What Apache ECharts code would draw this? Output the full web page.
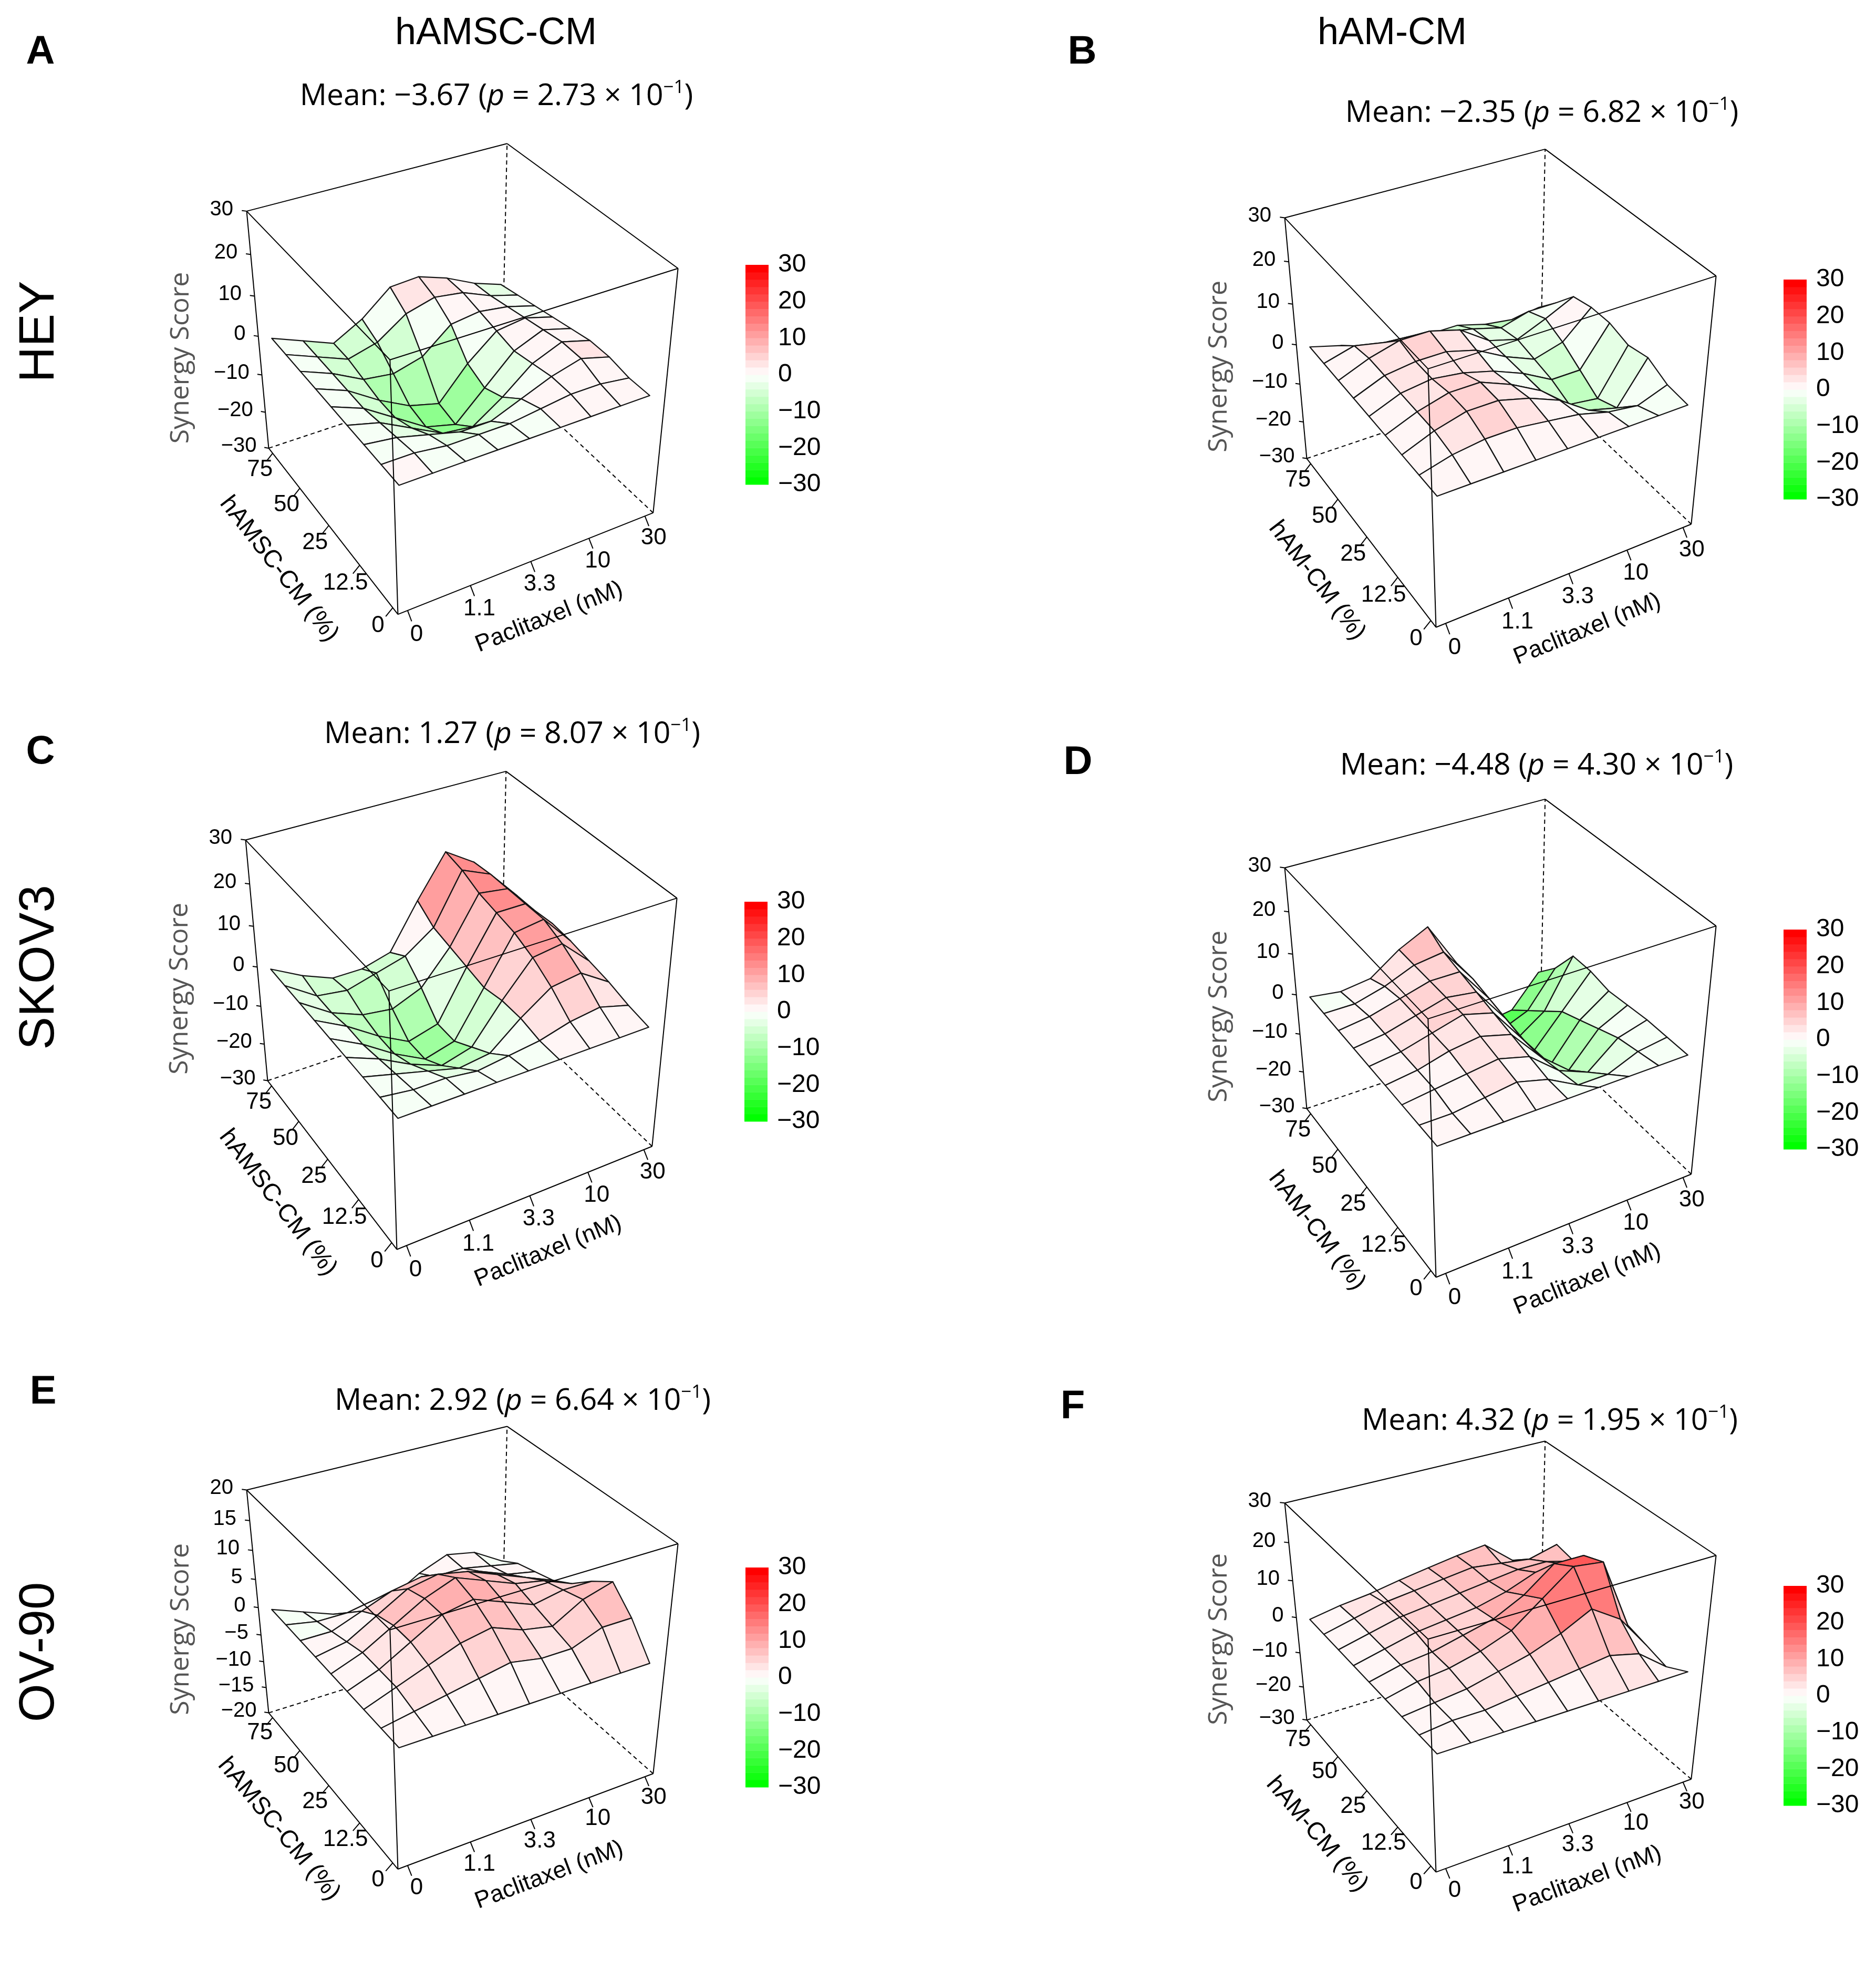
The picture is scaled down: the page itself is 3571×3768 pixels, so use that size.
<!DOCTYPE html>
<html>
<head>
<meta charset="utf-8">
<script src="https://cdn.jsdelivr.net/npm/echarts@6/dist/echarts.min.js"></script>
<style>
  html, body { margin: 0; padding: 0; background: #fff; }
  #chart { width: 3571px; height: 3768px; }
</style>
</head>
<body>
<div id="chart"></div>
<script>
// ---- data -------------------------------------------------------------
const pacLabels = ['0', '1.1', '3.3', '10', '30'];          // paclitaxel (nM)
const cmLabels = ['0', '12.5', '25', '50', '75'];          // conditioned medium (%)
const zTicks30 = [-30, -20, -10, 0, 10, 20, 30];
const zTicks20 = [-20, -15, -10, -5, 0, 5, 10, 15, 20];

// synergy score on the drawn mesh: rows = CM 0 -> 75 %, cols = paclitaxel 0 -> 30 nM
const heyAmsc = [
  [0, 0, 0, 0, 0, 0, 0, 0, 0],
  [0, 0, -1, -1, -1, 0, 1, 1, 0],
  [0, -1, -3, -5, -5, -2, 1, 3, 1],
  [0, -2, -6, -10, -11, -6, 0, 3, 1],
  [0, -3, -8, -13, -15, -8, -1, 2, 0],
  [0, -3, -8, -12, -14, -6, 0, 1, -1],
  [0, -3, -7, -8, -6, 0, 1, 0, -2],
  [0, -3, -6, -4, 1, 3, 2, -1, -3],
  [0, -3, -6, -2, 4, 4.5, 2, -1.5, -4]
];
const heyAm = [
  [0, 0, 0, 0, 0, 0, 0, 0, 0],
  [0, 2, 3, 3, 2, 1, -1, -2, 0.6],
  [0, 3, 5, 5, 3, 0, -5, -7, 3],
  [0, 3, 5, 5, 2, -2, -8, -9, 2],
  [0, 3, 4, 3, 1, -2, -6, -6, 3.5],
  [0, 3, 4, 4, 2, -2, -5, -3, 3.5],
  [0, 3, 5, 5, 3, -2, -4, -1, 2.4],
  [0, 2, 0.5, 0, -1.5, -3, -5, -3, -3],
  [0, -2, -4.5, -5.5, -6, -6, -8, -9, -8]
];
const skovAmsc = [
  [0, 0, 0, 0, 0, 0, 0, 0, 0],
  [0, -1, -1, -2, -1, 0, 2, 3, 1],
  [0, -2, -4, -6, -5, 1, 6, 7, 2.5],
  [0, -3, -7, -10, -8, 1, 9, 10, 3.5],
  [0, -4, -9, -13, -11, 0, 11, 12, 4.5],
  [0, -4, -9, -13, -11, 1, 12, 12, 5],
  [0, -5, -8, -9, -6, 2, 13, 12, 4.5],
  [0, -5, -6, -4, -2, 3, 15, 12, 4.5],
  [0, -4, -7, -7, -5, 6, 16, 11.5, 4]
];
const skovAm = [
  [0, 0, 0, 0, 0, 0, 0, 0, 0],
  [0, 0, 1, 2, 0, -4, -4, -1, 0],
  [0, 1, 2, 3, 1, -5, -8, -2, 0],
  [0, 1, 3, 4, 2, -6, -12, -4, -0.5],
  [0, 1, 3, 5, 3, -6, -15, -6, -1],
  [0, 1, 3, 5, 4, -5, -16, -8, 0],
  [0, 1, 3, 5, 5, -4, -17, -12, 0],
  [0, 0, 2, 5, 6, -3, -19, -16, -7],
  [0, -1, 0, 5, 8.5, -3, -21, -20, -12]
];
const ovAmsc = [
  [0, 0, 0, 0, 0, 0, 0, 0, 0],
  [0, 1, 2, 3, 4, 3, 3, 5, 5],
  [0, 2, 4, 6, 7, 5, 4, 7, 8.5],
  [0, 2, 5, 8, 9, 7, 5, 6, 6],
  [0, 2, 5, 8, 10, 8, 6, 5, 3],
  [0, 1, 4, 7, 8, 7, 5, 3, 1],
  [0, 0, 2, 4, 5, 4, 3, 1, 0],
  [0, -1, -1, 0, 1, 1, 1, 0, -1],
  [0, -2, -4, -5, -4, -1, 1, 0, -3]
];
const ovAm = [
  [0, 0, 0, 0, 0, 0, 0, 0, 0],
  [0, 1, 1, 2, 3, 4, 5, 3, -3],
  [0, 1, 2, 4, 6, 9, 13, 8, -1.5],
  [0, 2, 3, 5, 8, 14, 20, 19, 0],
  [0, 2, 3, 5, 7, 11, 17, 17, 3],
  [0, 2, 4, 5, 6, 8, 11, 11, 5],
  [0, 2, 4, 5, 6, 7, 8, 8, 6],
  [0, 2, 4, 5, 6, 7, 6, 5, 7],
  [0, 1.5, 2.5, 4, 5.3, 6.5, 7.4, 1, -3]
];

const panels = [
  { letter: 'A', scores: heyAmsc, zlim: [-30, 30], zTicks: zTicks30, cmTitle: 'hAMSC-CM (%)', mean: '\u22123.67', p: '2.73' },
  { letter: 'B', scores: heyAm, zlim: [-30, 30], zTicks: zTicks30, cmTitle: 'hAM-CM (%)', mean: '\u22122.35', p: '6.82' },
  { letter: 'C', scores: skovAmsc, zlim: [-30, 30], zTicks: zTicks30, cmTitle: 'hAMSC-CM (%)', mean: '1.27', p: '8.07' },
  { letter: 'D', scores: skovAm, zlim: [-30, 30], zTicks: zTicks30, cmTitle: 'hAM-CM (%)', mean: '\u22124.48', p: '4.30' },
  { letter: 'E', scores: ovAmsc, zlim: [-20, 20], zTicks: zTicks20, cmTitle: 'hAMSC-CM (%)', mean: '2.92', p: '6.64' },
  { letter: 'F', scores: ovAm, zlim: [-30, 30], zTicks: zTicks30, cmTitle: 'hAM-CM (%)', mean: '4.32', p: '1.95' }
];

// ---- layout (page pixels) ---------------------------------------------
const place = [
  { c: [867, 686], m: [945, 184], l: [77, 100] },
  { c: [2843, 714], m: [2935, 216], l: [2060, 100] },
  { c: [865, 1898], m: [975, 1398], l: [77, 1432] },
  { c: [2843, 1951], m: [2925, 1458], l: [2052, 1452] },
  { c: [867, 3165], m: [995, 2667], l: [82, 2650] },
  { c: [2843, 3200], m: [2950, 2705], l: [2042, 2678] }
];
const columns = [{ text: 'hAMSC-CM', x: 944, y: 64 }, { text: 'hAM-CM', x: 2650, y: 64 }];
const rows = [{ text: 'HEY', y: 631 }, { text: 'SKOV3', y: 1841 }, { text: 'OV-90', y: 3144 }];

const SCALE = 2830;    // page px per projected unit
const HALF = 0.25;     // projected half-range of each panel grid
const DIST = 5;        // viewer distance (lattice distance = 0.2)
const PAD = 0.035;     // dose-axis padding inside the box
const RZ = 30 * Math.PI / 180, RX = -55 * Math.PI / 180;
const SANS = '"Liberation Sans", Arial, sans-serif';
const HUMAN = '"Open Sans", "DejaVu Sans", sans-serif';
const MINUS = s => String(s).replace('-', '\u2212');

// ---- 3d helpers --------------------------------------------------------
function view(p) {
  const x1 = p[0] * Math.cos(RZ) - p[1] * Math.sin(RZ);
  const y1 = p[0] * Math.sin(RZ) + p[1] * Math.cos(RZ);
  const y2 = y1 * Math.cos(RX) - p[2] * Math.sin(RX);
  const z2 = y1 * Math.sin(RX) + p[2] * Math.cos(RX);
  const d = DIST - z2;
  return [x1 / d, y2 / d, z2];
}
const doseCoord = f => -0.5 + PAD + (1 - 2 * PAD) * f;
const scoreCoord = (panel, v) => (v - panel.zlim[0]) / (panel.zlim[1] - panel.zlim[0]) - 0.5;
function meshPoint(panel, i, j) {
  const n = panel.scores.length - 1;
  return [doseCoord(i / n), doseCoord(j / n), scoreCoord(panel, panel.scores[j][i])];
}

function ramp(t) {
  let r, g, b;
  if (t < 0.5) { const u = t / 0.5; r = 255 * u; g = 255; b = 255 * u; }
  else { const u = (t - 0.5) / 0.5; r = 255; g = 255 * (1 - u); b = 255 * (1 - u); }
  return 'rgb(' + Math.round(r) + ',' + Math.round(g) + ',' + Math.round(b) + ')';
}
const KEY_MIN = -30, KEY_MAX = 30, KEY_STEP = 2;
const KEY_N = (KEY_MAX - KEY_MIN) / KEY_STEP;
function keyColor(v) {
  let k = Math.floor((v - KEY_MIN) / KEY_STEP);
  k = Math.max(0, Math.min(KEY_N - 1, k));
  return ramp(k / (KEY_N - 1));
}

// box corners and edges
const corners = [];
[-0.5, 0.5].forEach(x => [-0.5, 0.5].forEach(y => [-0.5, 0.5].forEach(z => corners.push([x, y, z]))));
const edges = [];
corners.forEach((a, ia) => corners.forEach((b, ib) => {
  if (ib > ia && a.filter((v, k) => v !== b[k]).length === 1) edges.push([ia, ib]);
}));
let farIdx = 0;
corners.forEach((c, k) => { if (view(c)[2] < view(corners[farIdx])[2]) farIdx = k; });
const hiddenEdges = edges.filter(e => e[0] === farIdx || e[1] === farIdx);
const shownEdges = edges.filter(e => e[0] !== farIdx && e[1] !== farIdx);

// ---- option ------------------------------------------------------------
const grid = [], xAxis = [], yAxis = [], series = [], graphic = [];

panels.forEach((panel, k) => {
  const pos = place[k];
  grid.push({ left: pos.c[0] - HALF * SCALE, top: pos.c[1] - HALF * SCALE, width: 2 * HALF * SCALE, height: 2 * HALF * SCALE });
  xAxis.push({ type: 'value', gridIndex: k, min: -HALF, max: HALF, show: false });
  yAxis.push({ type: 'value', gridIndex: k, min: -HALF, max: HALF, show: false });
});
panels.forEach((panel, k) => {
  const pos = place[k];
  grid.push({ left: pos.c[0] + 552, top: pos.c[1] - 182, width: 44, height: 418 });
  xAxis.push({ type: 'value', gridIndex: 6 + k, min: 0, max: 1, show: false });
  yAxis.push({
    type: 'value', gridIndex: 6 + k, min: KEY_MIN, max: KEY_MAX, interval: 10, position: 'right',
    axisLine: { show: false }, axisTick: { show: false }, splitLine: { show: false },
    axisLabel: { fontSize: 48, fontFamily: SANS, color: '#000', margin: 18, formatter: v => MINUS(v) }
  });
});

panels.forEach((panel, k) => {
  const pos = place[k];
  const base = { type: 'custom', coordinateSystem: 'cartesian2d', xAxisIndex: k, yAxisIndex: k, silent: true, clip: false };
  const toPx = (api, p) => api.coord(view(p).slice(0, 2));

  // hidden box edges (dashed)
  series.push(Object.assign({}, base, {
    z: 1,
    data: hiddenEdges.map((e, q) => [q]),
    renderItem: (params, api) => {
      const e = hiddenEdges[api.value(0)];
      const a = toPx(api, corners[e[0]]), b = toPx(api, corners[e[1]]);
      return { type: 'line', shape: { x1: a[0], y1: a[1], x2: b[0], y2: b[1] }, style: { stroke: '#000', lineWidth: 2, lineDash: [8, 6] } };
    }
  }));

  // surface facets, far to near
  const n = panel.scores.length - 1;
  const cells = [];
  for (let j = 0; j < n; j++) {
    for (let i = 0; i < n; i++) {
      const s = panel.scores;
      const zm = (s[j][i] + s[j][i + 1] + s[j + 1][i] + s[j + 1][i + 1]) / 4;
      const depth = view([doseCoord((i + 0.5) / n), doseCoord((j + 0.5) / n), scoreCoord(panel, zm)])[2];
      cells.push({ i, j, zm, depth });
    }
  }
  cells.sort((a, b) => a.depth - b.depth);
  series.push(Object.assign({}, base, {
    z: 2,
    data: cells.map(c => [c.i, c.j, c.zm]),
    renderItem: (params, api) => {
      const i = api.value(0), j = api.value(1);
      const pts = [[i, j], [i + 1, j], [i + 1, j + 1], [i, j + 1]].map(q => toPx(api, meshPoint(panel, q[0], q[1])));
      return {
        type: 'polygon', z2: params.dataIndex, shape: { points: pts },
        style: { fill: keyColor(api.value(2)), stroke: '#141414', lineWidth: 2.2, lineJoin: 'round' }
      };
    }
  }));

  // visible box edges
  series.push(Object.assign({}, base, {
    z: 3,
    data: shownEdges.map((e, q) => [q]),
    renderItem: (params, api) => {
      const e = shownEdges[api.value(0)];
      const a = toPx(api, corners[e[0]]), b = toPx(api, corners[e[1]]);
      return { type: 'line', shape: { x1: a[0], y1: a[1], x2: b[0], y2: b[1] }, style: { stroke: '#000', lineWidth: 2 } };
    }
  }));

  // axes: ticks, labels, titles
  const r2 = Math.SQRT1_2;
  const axes = [
    {
      dir: [0, -r2, -r2], tick: 0.037, gap: 0.082, align: 'center', size: 44,
      ticks: pacLabels.map((t, q) => ({ p: [doseCoord(q / (pacLabels.length - 1)), -0.5, -0.5], text: t })),
      title: 'Paclitaxel (nM)', from: [-0.5, -0.5, -0.5], to: [0.5, -0.5, -0.5], off: [35, 106], tsize: 45, tcolor: '#000', tfont: SANS
    },
    {
      dir: [-r2, 0, -r2], tick: 0.037, gap: 0.078, align: 'center', size: 44,
      ticks: cmLabels.map((t, q) => ({ p: [-0.5, doseCoord(q / (cmLabels.length - 1)), -0.5], text: t })),
      title: panel.cmTitle, from: [-0.5, 0.5, -0.5], to: [-0.5, -0.5, -0.5], off: [-95, 83], tsize: 47, tcolor: '#000', tfont: SANS
    },
    {
      dir: [-r2, r2, 0], tick: 0.017, gap: 0.047, align: 'right', size: 40,
      ticks: panel.zTicks.map(v => ({ p: [-0.5, 0.5, scoreCoord(panel, v)], text: MINUS(v) })),
      title: 'Synergy Score', from: [-0.5, 0.5, -0.5], to: [-0.5, 0.5, 0.5], off: [-147, 41], tsize: 50, tcolor: '#555', tfont: HUMAN, rot: Math.PI / 2
    }
  ];
  series.push(Object.assign({}, base, {
    z: 4,
    data: axes.map((a, q) => [q]),
    renderItem: (params, api) => {
      const ax = axes[api.value(0)];
      const children = [];
      const shift = (p, f) => [p[0] + ax.dir[0] * f, p[1] + ax.dir[1] * f, p[2] + ax.dir[2] * f];
      ax.ticks.forEach(t => {
        const a = toPx(api, t.p), b = toPx(api, shift(t.p, ax.tick)), c = toPx(api, shift(t.p, ax.gap));
        children.push({ type: 'line', shape: { x1: a[0], y1: a[1], x2: b[0], y2: b[1] }, style: { stroke: '#000', lineWidth: 2 } });
        children.push({
          type: 'text', x: c[0], y: c[1],
          style: { text: t.text, fontSize: ax.size, fontFamily: SANS, fill: '#000', align: ax.align, verticalAlign: 'middle' }
        });
      });
      const a = toPx(api, ax.from), b = toPx(api, ax.to);
      const mid = toPx(api, ax.from.map((v, q) => (v + ax.to[q]) / 2));
      const rot = ax.rot !== undefined ? ax.rot : Math.atan2(-(b[1] - a[1]), b[0] - a[0]);
      children.push({
        type: 'text', x: mid[0] + ax.off[0], y: mid[1] + ax.off[1], rotation: rot,
        style: { text: ax.title, fontSize: ax.tsize, fontFamily: ax.tfont, fill: ax.tcolor, align: 'center', verticalAlign: 'middle' }
      });
      return { type: 'group', children };
    }
  }));

  // colour key
  const bands = [];
  for (let q = 0; q < KEY_N; q++) bands.push([KEY_MIN + q * KEY_STEP, KEY_MIN + (q + 1) * KEY_STEP]);
  series.push({
    type: 'custom', coordinateSystem: 'cartesian2d', xAxisIndex: 6 + k, yAxisIndex: 6 + k, silent: true,
    data: bands,
    renderItem: (params, api) => {
      const lo = api.coord([0, api.value(0)]), hi = api.coord([1, api.value(1)]);
      return {
        type: 'rect', shape: { x: lo[0], y: hi[1], width: hi[0] - lo[0], height: lo[1] - hi[1] + 0.5 },
        style: { fill: keyColor((api.value(0) + api.value(1)) / 2) }
      };
    }
  });

  // panel letter and mean title
  graphic.push({
    type: 'text', x: pos.l[0], y: pos.l[1],
    style: { text: panel.letter, fontSize: 76, fontWeight: 'bold', fontFamily: SANS, fill: '#000', align: 'center', verticalAlign: 'middle' }
  });
  graphic.push({
    type: 'text', x: pos.m[0], y: pos.m[1],
    style: {
      text: '{t|Mean: ' + panel.mean + ' (}{i|p}{t| = ' + panel.p + ' \u00d7 10}{s|\u22121}{t|)}',
      align: 'center', verticalAlign: 'middle',
      rich: {
        t: { fontSize: 57, fontFamily: HUMAN, fill: '#000', lineHeight: 68 },
        i: { fontSize: 57, fontFamily: HUMAN, fontStyle: 'italic', fill: '#000', lineHeight: 68 },
        s: { fontSize: 35, fontFamily: HUMAN, fill: '#000', verticalAlign: 'top', lineHeight: 68 }
      }
    }
  });
});

columns.forEach(c => graphic.push({
  type: 'text', x: c.x, y: c.y,
  style: { text: c.text, fontSize: 72, fontFamily: SANS, fill: '#000', align: 'center', verticalAlign: 'middle' }
}));
rows.forEach(r => graphic.push({
  type: 'text', x: 76, y: r.y, rotation: Math.PI / 2,
  style: { text: r.text, fontSize: 94, fontFamily: SANS, fill: '#000', align: 'center', verticalAlign: 'middle' }
}));

const chart = echarts.init(document.getElementById('chart'));
chart.setOption({ animation: false, backgroundColor: '#fff', grid, xAxis, yAxis, series, graphic });
</script>
</body>
</html>
